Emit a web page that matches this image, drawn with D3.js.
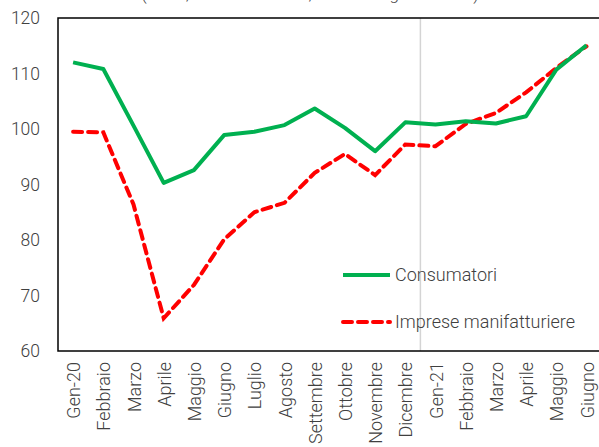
<!DOCTYPE html>
<html>
<head>
<meta charset="utf-8">
<script src="https://cdn.jsdelivr.net/npm/d3@7"></script>
<style>
  body { margin: 0; background: #fff; }
  svg { display: block; font-family: Roboto, sans-serif; }
</style>
</head>
<body>
<svg id="chart" width="599" height="447"></svg>
<script>
// mesi (asse x)
var mesi = ["Gen-20","Febbraio","Marzo","Aprile","Maggio","Giugno","Luglio","Agosto","Settembre",
            "Ottobre","Novembre","Dicembre","Gen-21","Febbraio","Marzo","Aprile","Maggio","Giugno"];
// fiducia consumatori
var consumatori = [112.0, 110.8, 100.6, 90.3, 92.6, 98.9, 99.5, 100.7, 103.7,
                   100.2, 96.0, 101.2, 100.8, 101.4, 101.0, 102.3, 110.7, 115.1];
// fiducia imprese manifatturiere
var imprese = [99.5, 99.4, 86.4, 65.9, 71.9, 80.1, 85.0, 86.7, 92.1,
               95.5, 91.7, 97.2, 96.9, 100.9, 102.9, 106.6, 111.0, 114.9];
var yTicks = [60, 70, 80, 90, 100, 110, 120];

var svg = d3.select("#chart");
var pLeft = 58, pTop = 18, pBottom = 351;
var bw = 30.2;

var x = d3.scaleBand()
    .domain(d3.range(mesi.length))
    .range([pLeft, pLeft + bw * mesi.length]);
var y = d3.scaleLinear().domain([60, 120]).range([pBottom, pTop]);
var cx = function(i){ return x(i) + x.bandwidth() / 2; };

// titolo (tagliato in alto)
svg.append("text")
    .attr("x", 310).attr("y", 0)
    .attr("text-anchor", "middle")
    .attr("font-size", 17).attr("font-weight", 300)
    .attr("fill", "#404040")
    .text("(indici, base 2010=100, dati destagionalizzati)");

// linea verticale grigia tra dic e gen
svg.append("line")
    .attr("x1", x(12)).attr("x2", x(12))
    .attr("y1", pTop).attr("y2", pBottom)
    .attr("stroke", "#d4d4d4").attr("stroke-width", 1.5);

// bordo area grafico
svg.append("rect")
    .attr("x", pLeft).attr("y", pTop)
    .attr("width", bw * mesi.length).attr("height", pBottom - pTop)
    .attr("fill", "none").attr("stroke", "#000").attr("stroke-width", 1.5);

// asse y
svg.selectAll(".ytick").data(yTicks).enter().append("text")
    .attr("class", "ytick")
    .attr("x", 40).attr("y", function(d){ return y(d); })
    .attr("dy", "0.35em")
    .attr("text-anchor", "end")
    .attr("font-size", 17.5).attr("font-weight", 300)
    .attr("fill", "#404040")
    .text(function(d){ return d; });

// asse x
svg.selectAll(".xtick").data(mesi).enter().append("text")
    .attr("class", "xtick")
    .attr("transform", function(d, i){ return "translate(" + (cx(i) + 7) + "," + (pBottom + 11) + ") rotate(-90)"; })
    .attr("text-anchor", "end")
    .attr("font-size", 18).attr("font-weight", 300)
    .attr("fill", "#404040")
    .text(function(d){ return d; });

var line = d3.line()
    .x(function(d, i){ return cx(i); })
    .y(function(d){ return y(d); });

svg.append("path").datum(imprese)
    .attr("d", line)
    .attr("fill", "none")
    .attr("stroke", "#ff0000").attr("stroke-width", 4)
    .attr("stroke-dasharray", "9,6")
    .attr("stroke-linecap", "round");

svg.append("path").datum(consumatori)
    .attr("d", line)
    .attr("fill", "none")
    .attr("stroke", "#00b050").attr("stroke-width", 4)
    .attr("stroke-linejoin", "round");

// legenda
var leg = [
  {name: "Consumatori", color: "#00b050", dash: null, y: 275},
  {name: "Imprese manifatturiere", color: "#ff0000", dash: "9,6", y: 322}
];
leg.forEach(function(d){
  svg.append("line")
      .attr("x1", 343).attr("x2", 390)
      .attr("y1", d.y).attr("y2", d.y)
      .attr("stroke", d.color).attr("stroke-width", 4)
      .attr("stroke-dasharray", d.dash)
      .attr("stroke-linecap", d.dash ? "round" : "butt");
  svg.append("text")
      .attr("x", 395).attr("y", d.y)
      .attr("dy", "0.35em")
      .attr("font-size", 18).attr("font-weight", 300)
      .attr("fill", "#404040")
      .text(d.name);
});
</script>
</body>
</html>
